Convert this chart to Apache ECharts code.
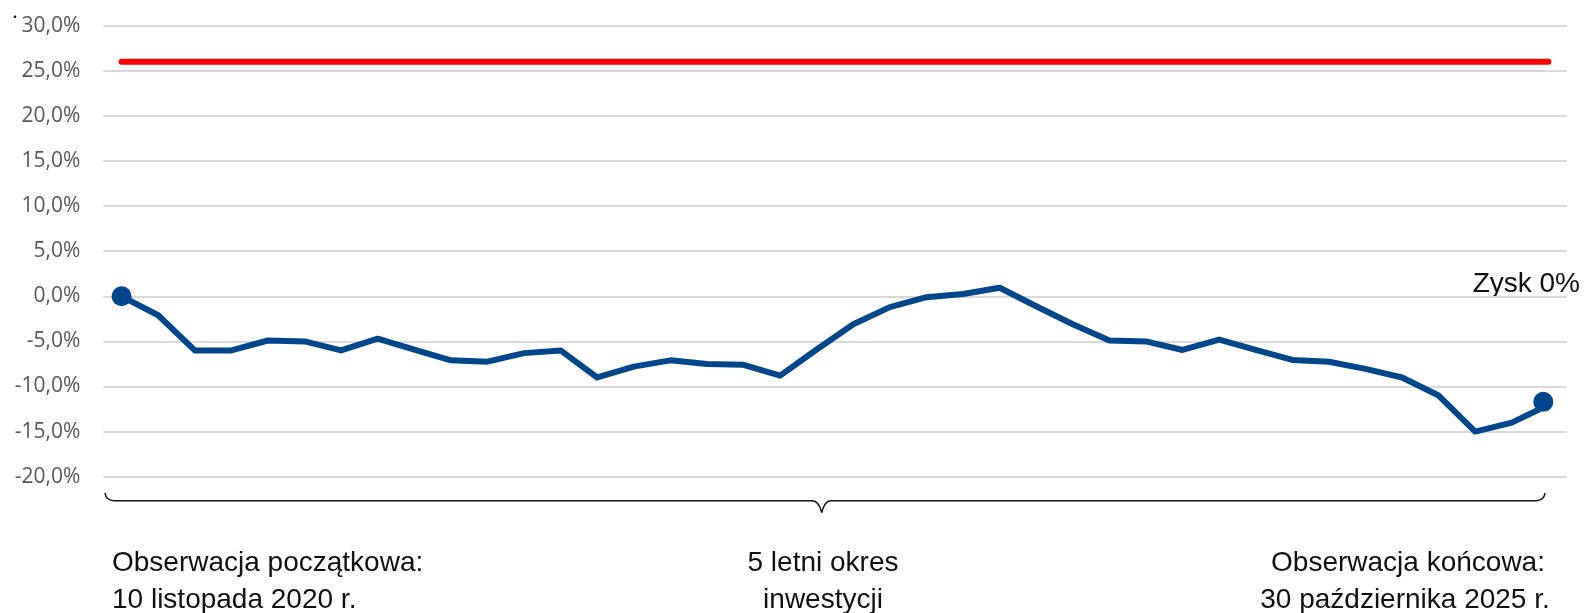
<!DOCTYPE html>
<html>
<head>
<meta charset="utf-8">
<script src="https://cdn.jsdelivr.net/npm/echarts@6/dist/echarts.min.js"></script>
<style>
html,body{margin:0;padding:0;background:#fff;}
#c{width:1585px;height:613px;}
</style>
</head>
<body>
<div id="c"></div>
<script>
// observation positions (observation number along the 5-year period)
const obsPos = [0,1,2,3,4,5,6,7,8,9,10,11,12,13,14,15,16,17,18,19,20,21,22,23,24,25,26,27,28,29,30,31,32,33,34,35,36,37,38,38.77];
// performance vs. initial observation, %
const perfValues = [0.0,-2.1,-6.0,-6.0,-4.9,-5.0,-6.0,-4.7,-5.9,-7.1,-7.25,-6.3,-6.0,-9.0,-7.8,-7.1,-7.5,-7.6,-8.8,-5.9,-3.1,-1.2,-0.1,0.25,0.95,-1.1,-3.1,-4.9,-5.0,-5.95,-4.8,-5.95,-7.05,-7.25,-8.05,-9.0,-11.0,-15.0,-14.0,-12.5];
// start / end observation markers
const markerPos = [0, 38.86];
const markerValues = [0.0, -11.7];
// barrier level line
const barrierPos = [0, 39];
const barrierValues = [26, 26];
// y-axis ticks
const yMin = -20, yMax = 30, yStep = 5;
// texts
const gainLabel = 'Zysk 0%';
const startText = ['Obserwacja początkowa:', '10 listopada 2020 r.'];
const periodText = ['5 letni okres', 'inwestycji'];
const endText = ['Obserwacja końcowa:', '30 października 2025 r.'];

const pair = (xs, ys) => xs.map((x, i) => [x, ys[i]]);
const FONT = '"Liberation Sans", Arial, sans-serif';
const AXIS_FONT = '"Open Sans", "Liberation Sans", sans-serif';
const BLUE = '#00468c';

const chart = echarts.init(document.getElementById('c'), null, {renderer: 'canvas'});

function txt(text, x, y, align) {
  return {
    type: 'text', silent: true,
    style: {
      text: text, x: x, y: y, fill: '#111',
      font: '28px ' + FONT, textAlign: align, textVerticalAlign: 'middle'
    }
  };
}
const braceStyle = {fill: null, stroke: '#111', lineWidth: 1.5};
function curve(x1, y1, cx, cy, x2, y2) {
  return {type: 'bezierCurve', silent: true,
    shape: {x1: x1, y1: y1, cpx1: cx, cpy1: cy, x2: x2, y2: y2}, style: braceStyle};
}
function seg(x1, y1, x2, y2) {
  return {type: 'line', silent: true, shape: {x1: x1, y1: y1, x2: x2, y2: y2}, style: braceStyle};
}

const option = {
  animation: false,
  backgroundColor: '#fff',
  grid: {left: 103.3, right: 18.3, top: 25.7, bottom: 136.3, containLabel: false},
  xAxis: {
    type: 'value', min: -0.5, max: 39.5,
    show: false, splitLine: {show: false}
  },
  yAxis: {
    type: 'value', min: yMin, max: yMax, interval: yStep,
    axisLine: {show: false}, axisTick: {show: false},
    axisLabel: {
      margin: 23, color: '#595959', fontSize: 21, fontFamily: AXIS_FONT,
      formatter: v => v.toFixed(1).replace('.', ',') + '%'
    },
    splitLine: {lineStyle: {color: '#d9d9d9', width: 2}}
  },
  series: [
    {
      type: 'line', data: pair(barrierPos, barrierValues),
      symbol: 'none', silent: true,
      lineStyle: {color: '#ff0000', width: 6, cap: 'round'}
    },
    {
      type: 'line', data: pair(obsPos, perfValues),
      symbol: 'none', silent: true,
      lineStyle: {color: BLUE, width: 6, join: 'round'}
    },
    {
      type: 'scatter', data: pair(markerPos, markerValues),
      symbolSize: 20, silent: true,
      itemStyle: {color: BLUE, opacity: 1}
    }
  ],
  graphic: [
    {type: 'circle', silent: true, shape: {cx: 15, cy: 16.7, r: 1.3}, style: {fill: '#000'}},
    curve(105, 493, 106, 500.7, 114, 500.7),
    seg(114, 500.7, 812, 500.7),
    curve(812, 500.7, 819, 500.7, 821.7, 512.7),
    curve(821.7, 512.7, 824.4, 500.7, 831, 500.7),
    seg(831, 500.7, 1536, 500.7),
    curve(1536, 500.7, 1544, 500.7, 1545, 493),
    txt(gainLabel, 1580, 284, 'right'),
    txt(startText[0], 112, 563.5, 'left'),
    txt(startText[1], 112, 600, 'left'),
    txt(periodText[0], 823, 563.5, 'center'),
    txt(periodText[1], 823, 600, 'center'),
    txt(endText[0], 1408, 563.5, 'center'),
    txt(endText[1], 1405, 600, 'center')
  ]
};
chart.setOption(option);
</script>
</body>
</html>
